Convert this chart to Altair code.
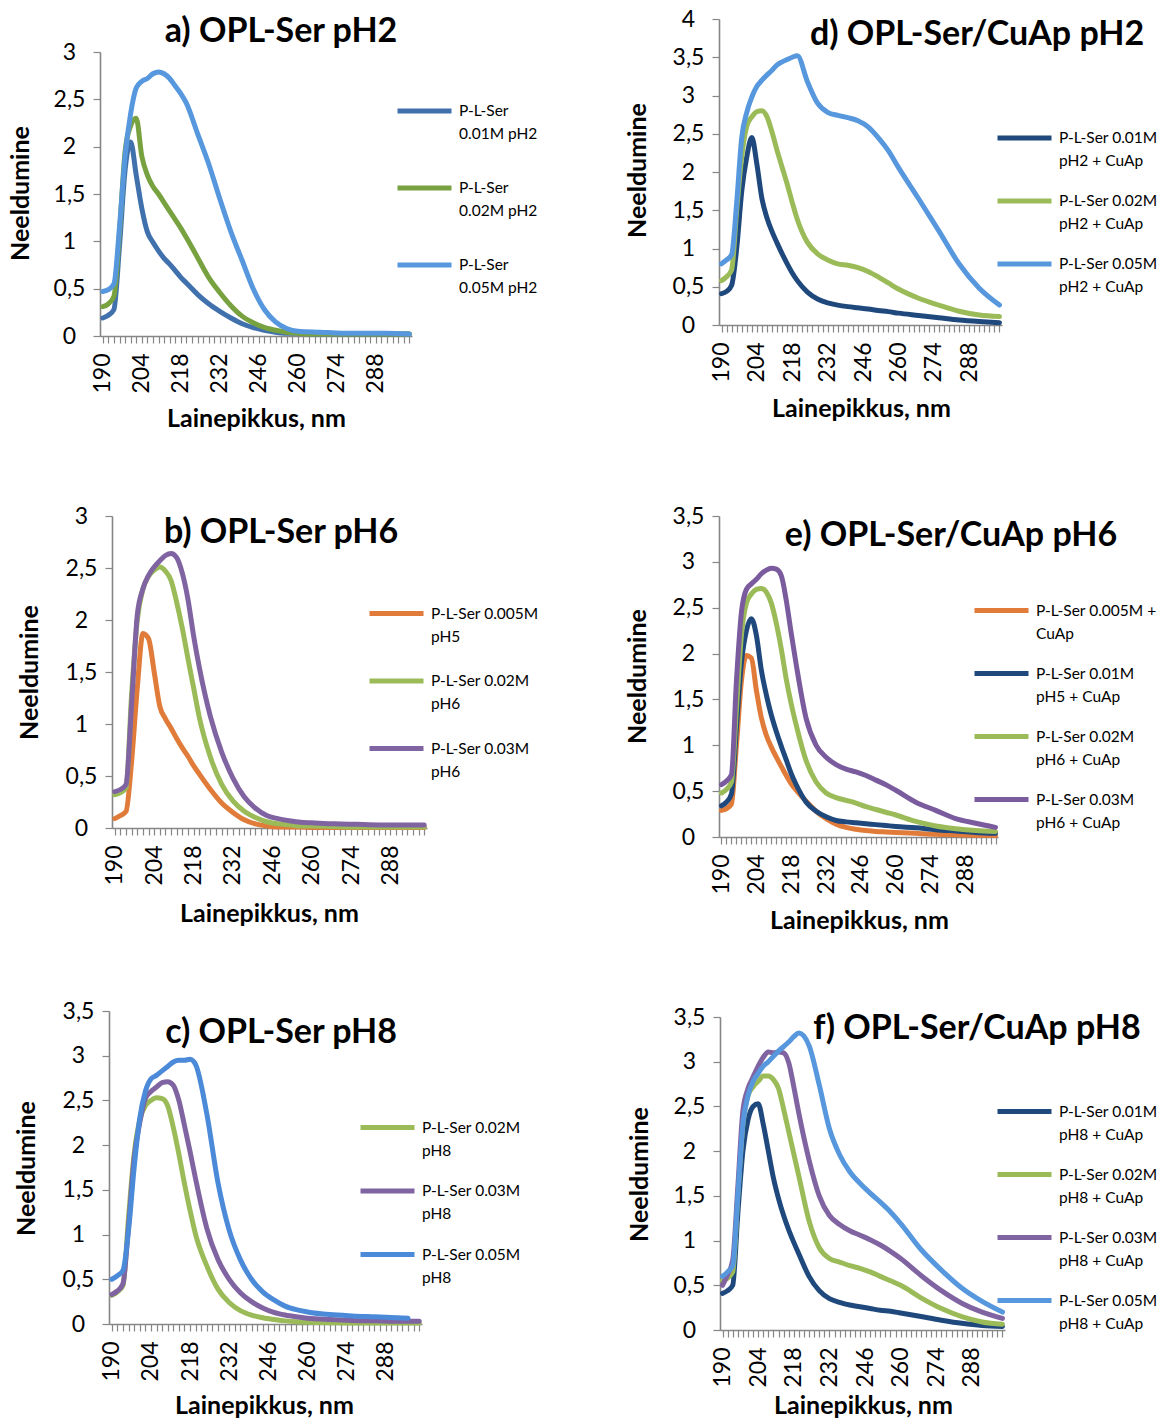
import altair as alt
import pandas as pd

# ---------------- data ----------------
WL = [190, 192, 194, 196, 198, 200, 202, 204, 206, 208, 210, 212, 214, 216, 218, 220,
      224, 228, 232, 236, 240, 244, 248, 252, 256, 260, 268, 276, 284, 292, 300]
WL_C3 = WL[:-1] + [296]

X_TICKS = list(range(190, 301, 2))
X_LABELS = [190, 204, 218, 232, 246, 260, 274, 288]

# a) OPL-Ser pH2
A_NAMES = ["P-L-Ser|0.01M pH2", "P-L-Ser|0.02M pH2", "P-L-Ser|0.05M pH2"]
A1 = [0.19, 0.22, 0.28, 0.95, 1.75, 2.05, 1.70, 1.35, 1.10, 0.99, 0.90, 0.82, 0.76, 0.69, 0.62, 0.56,
      0.44, 0.34, 0.26, 0.19, 0.13, 0.09, 0.06, 0.04, 0.03, 0.03, 0.02, 0.02, 0.02, 0.02, 0.02]
A2 = [0.31, 0.34, 0.42, 1.10, 1.95, 2.22, 2.30, 1.90, 1.70, 1.58, 1.50, 1.41, 1.32, 1.23, 1.14, 1.04,
      0.83, 0.62, 0.46, 0.32, 0.21, 0.14, 0.09, 0.06, 0.04, 0.03, 0.02, 0.02, 0.02, 0.02, 0.02]
A3 = [0.47, 0.49, 0.55, 1.15, 1.90, 2.35, 2.62, 2.69, 2.72, 2.77, 2.79, 2.77, 2.72, 2.64, 2.56, 2.46,
      2.14, 1.82, 1.45, 1.10, 0.80, 0.50, 0.28, 0.15, 0.08, 0.05, 0.04, 0.03, 0.03, 0.03, 0.02]
A_COLORS = ["#4171AC", "#78A140", "#5797DD"]

# b) OPL-Ser pH6
B_NAMES = ["P-L-Ser 0.005M|pH5", "P-L-Ser 0.02M|pH6", "P-L-Ser 0.03M|pH6"]
B1 = [0.09, 0.12, 0.16, 0.65, 1.35, 1.87, 1.82, 1.50, 1.17, 1.05, 0.96, 0.86, 0.77, 0.69, 0.60, 0.52,
      0.37, 0.24, 0.15, 0.08, 0.04, 0.02, 0.01, 0.01, 0.01, 0.005, 0.005, 0.005, 0.005, 0.005, 0.005]
B2 = [0.32, 0.34, 0.39, 1.30, 2.00, 2.30, 2.42, 2.48, 2.51, 2.47, 2.38, 2.17, 1.92, 1.63, 1.35, 1.07,
      0.68, 0.42, 0.26, 0.16, 0.10, 0.06, 0.04, 0.03, 0.02, 0.02, 0.015, 0.01, 0.01, 0.01, 0.01]
B3 = [0.35, 0.37, 0.42, 1.20, 2.05, 2.30, 2.43, 2.51, 2.57, 2.62, 2.64, 2.60, 2.45, 2.20, 1.85, 1.55,
      1.07, 0.73, 0.48, 0.30, 0.19, 0.12, 0.09, 0.07, 0.055, 0.05, 0.04, 0.035, 0.03, 0.03, 0.03]
B_COLORS = ["#E07B39", "#9BBB59", "#8064A2"]

# c) OPL-Ser pH8
C_NAMES = ["P-L-Ser 0.02M|pH8", "P-L-Ser 0.03M|pH8", "P-L-Ser 0.05M|pH8"]
C1 = [0.32, 0.36, 0.43, 1.20, 1.90, 2.28, 2.44, 2.50, 2.53, 2.52, 2.44, 2.20, 1.90, 1.57, 1.27, 1.00,
      0.65, 0.39, 0.24, 0.15, 0.10, 0.07, 0.05, 0.035, 0.025, 0.02, 0.015, 0.01, 0.01, 0.01, 0.01]
C2 = [0.33, 0.37, 0.45, 1.10, 1.85, 2.25, 2.52, 2.60, 2.65, 2.70, 2.71, 2.67, 2.50, 2.22, 1.93, 1.62,
      1.07, 0.72, 0.50, 0.35, 0.25, 0.18, 0.13, 0.10, 0.08, 0.065, 0.05, 0.04, 0.035, 0.03, 0.03]
C3 = [0.50, 0.54, 0.60, 1.05, 1.75, 2.30, 2.60, 2.74, 2.78, 2.83, 2.88, 2.93, 2.95, 2.95, 2.96, 2.90,
      2.35, 1.58, 1.05, 0.72, 0.50, 0.36, 0.27, 0.20, 0.16, 0.135, 0.105, 0.09, 0.08, 0.07, 0.065]
C_COLORS = ["#9BBB59", "#8064A2", "#4A8AD8"]

# d) OPL-Ser/CuAp pH2
D_NAMES = ["P-L-Ser 0.01M|pH2 + CuAp", "P-L-Ser 0.02M|pH2 + CuAp", "P-L-Ser 0.05M|pH2 + CuAp"]
D1 = [0.41, 0.44, 0.52, 1.00, 1.75, 2.20, 2.45, 2.10, 1.65, 1.40, 1.22, 1.07, 0.93, 0.80, 0.68, 0.58,
      0.43, 0.34, 0.29, 0.26, 0.24, 0.225, 0.21, 0.19, 0.175, 0.155, 0.125, 0.095, 0.065, 0.045, 0.03]
D2 = [0.58, 0.63, 0.72, 1.50, 2.20, 2.60, 2.72, 2.79, 2.80, 2.72, 2.52, 2.28, 2.06, 1.84, 1.60, 1.38,
      1.08, 0.93, 0.85, 0.80, 0.78, 0.75, 0.70, 0.63, 0.55, 0.47, 0.35, 0.26, 0.18, 0.13, 0.11]
D3 = [0.80, 0.85, 0.92, 1.60, 2.45, 2.78, 2.98, 3.12, 3.20, 3.27, 3.33, 3.40, 3.44, 3.47, 3.50, 3.52,
      3.18, 2.90, 2.78, 2.74, 2.71, 2.67, 2.59, 2.45, 2.28, 2.06, 1.65, 1.23, 0.80, 0.48, 0.26]
D_COLORS = ["#1F497D", "#9BBB59", "#5797DD"]

# e) OPL-Ser/CuAp pH6
E_NAMES = ["P-L-Ser 0.005M +|CuAp", "P-L-Ser 0.01M|pH5 + CuAp", "P-L-Ser 0.02M|pH6 + CuAp",
           "P-L-Ser 0.03M|pH6 + CuAp"]
E1 = [0.29, 0.31, 0.36, 1.00, 1.70, 1.98, 1.95, 1.60, 1.30, 1.11, 0.98, 0.87, 0.77, 0.67, 0.58, 0.51,
      0.39, 0.28, 0.20, 0.14, 0.105, 0.085, 0.07, 0.06, 0.055, 0.05, 0.04, 0.03, 0.025, 0.02, 0.015]
E2 = [0.34, 0.38, 0.47, 1.20, 1.90, 2.25, 2.38, 2.20, 1.82, 1.55, 1.33, 1.15, 0.99, 0.84, 0.69, 0.57,
      0.38, 0.28, 0.22, 0.18, 0.165, 0.155, 0.145, 0.135, 0.125, 0.115, 0.10, 0.08, 0.065, 0.05, 0.04]
E3 = [0.48, 0.52, 0.60, 1.40, 2.20, 2.55, 2.65, 2.70, 2.71, 2.67, 2.55, 2.33, 2.05, 1.72, 1.45, 1.22,
      0.83, 0.60, 0.48, 0.43, 0.40, 0.37, 0.33, 0.30, 0.27, 0.24, 0.17, 0.12, 0.09, 0.07, 0.06]
E4 = [0.57, 0.61, 0.68, 1.70, 2.45, 2.70, 2.76, 2.81, 2.87, 2.91, 2.93, 2.92, 2.85, 2.58, 2.22, 1.88,
      1.29, 1.00, 0.87, 0.79, 0.74, 0.71, 0.67, 0.62, 0.57, 0.51, 0.38, 0.29, 0.20, 0.15, 0.105]
E_COLORS = ["#E07B39", "#1F497D", "#9BBB59", "#7A5C9E"]

# f) OPL-Ser/CuAp pH8
F_NAMES = ["P-L-Ser 0.01M|pH8 + CuAp", "P-L-Ser 0.02M|pH8 + CuAp", "P-L-Ser 0.03M|pH8 + CuAp",
           "P-L-Ser 0.05M|pH8 + CuAp"]
F1 = [0.41, 0.44, 0.50, 1.30, 2.00, 2.35, 2.50, 2.53, 2.30, 2.00, 1.70, 1.47, 1.28, 1.12, 0.98, 0.85,
      0.60, 0.44, 0.35, 0.31, 0.28, 0.26, 0.24, 0.22, 0.21, 0.19, 0.15, 0.11, 0.075, 0.05, 0.04]
F2 = [0.55, 0.58, 0.65, 1.50, 2.30, 2.62, 2.72, 2.78, 2.84, 2.84, 2.80, 2.70, 2.47, 2.22, 1.97, 1.72,
      1.22, 0.92, 0.80, 0.76, 0.72, 0.69, 0.65, 0.60, 0.55, 0.50, 0.36, 0.24, 0.15, 0.09, 0.065]
F3 = [0.50, 0.62, 0.78, 1.60, 2.45, 2.70, 2.83, 2.95, 3.05, 3.11, 3.10, 3.11, 3.10, 2.99, 2.72, 2.42,
      1.90, 1.50, 1.28, 1.18, 1.11, 1.06, 1.01, 0.95, 0.88, 0.80, 0.61, 0.44, 0.30, 0.20, 0.13]
F4 = [0.60, 0.65, 0.72, 1.50, 2.30, 2.62, 2.78, 2.87, 2.95, 3.00, 3.06, 3.12, 3.17, 3.22, 3.28, 3.32,
      3.18, 2.74, 2.25, 1.96, 1.77, 1.64, 1.53, 1.43, 1.32, 1.19, 0.90, 0.67, 0.47, 0.32, 0.20]
F_COLORS = ["#1F497D", "#9BBB59", "#8064A2", "#5797DD"]

# ---------------- styling / layout ----------------
FONT = "Lato"
GRAY = "#868686"
CELL_W = 315
ROW_H = [306, 323, 316]

PANELS = [
    dict(title="a) OPL-Ser pH2", names=A_NAMES, vals=[A1, A2, A3], wls=[WL, WL, WL], colors=A_COLORS,
         ymax=3.0, h=ROW_H[0], xr=[-12, 300], yr=[317, 33], yoff=12, xoff=11,
         ytx=-80, yty=174, xtx=144, xty=82, legx=283, legy=62.5, rowpad=16, tdx=11.5, tdy=46.5),
    dict(title="d) OPL-Ser/CuAp pH2", names=D_NAMES, vals=[D1, D2, D3], wls=[WL, WL, WL], colors=D_COLORS,
         ymax=4.0, h=ROW_H[0], xr=[-1, 282], yr=[306, 0], yoff=1, xoff=0,
         ytx=-82, yty=151, xtx=141, xty=83, legx=275, legy=89.5, rowpad=2, tdx=99.5, tdy=60.5),
    dict(title="b) OPL-Ser pH6", names=B_NAMES, vals=[B1, B2, B3], wls=[WL, WL, WL], colors=B_COLORS,
         ymax=3.0, h=ROW_H[1], xr=[0, 315], yr=[323, 11], yoff=0, xoff=0,
         ytx=-83, yty=167, xtx=157, xty=85, legx=255, legy=79, rowpad=6.5, tdx=11.5, tdy=62),
    dict(title="e) OPL-Ser/CuAp pH6", names=E_NAMES, vals=[E1, E2, E3, E4], wls=[WL, WL, WL, WL],
         colors=E_COLORS, ymax=3.5, h=ROW_H[1], xr=[-1, 278], yr=[332, 11], yoff=1, xoff=9,
         ytx=-82, yty=171, xtx=139, xty=83, legx=252, legy=76, rowpad=2, tdx=73.5, tdy=65),
    dict(title="c) OPL-Ser pH8", names=C_NAMES, vals=[C1, C2, C3], wls=[WL, WL, WL_C3], colors=C_COLORS,
         ymax=3.5, h=ROW_H[2], xr=[-3, 310], yr=[316, 3], yoff=3, xoff=0,
         ytx=-83, yty=160, xtx=152, xty=81, legx=246, legy=90, rowpad=2.5, tdx=11.5, tdy=67),
    dict(title="f) OPL-Ser/CuAp pH8", names=F_NAMES, vals=[F1, F2, F3, F4], wls=[WL, WL, WL, WL],
         colors=F_COLORS, ymax=3.5, h=ROW_H[2], xr=[0, 285], yr=[322, 9], yoff=0, xoff=6,
         ytx=-81, yty=166, xtx=143, xty=75, legx=275, legy=74, rowpad=2, tdx=99.5, tdy=57),
]

LABEL_EXPR_X = "indexof(" + str(X_LABELS) + ", datum.value) >= 0 ? datum.label : ''"


def make_panel(p):
    rows = []
    for k, (name, vals, wls) in enumerate(zip(p["names"], p["vals"], p["wls"])):
        for w, v in zip(wls, vals):
            rows.append({"wl": w, "v": v, "s": name, "k": k})
    df = pd.DataFrame(rows)
    ymax = p["ymax"]
    yvals = [i * 0.5 for i in range(int(round(ymax * 2)) + 1)]

    x = alt.X(
        "wl:Q",
        scale=alt.Scale(domain=[189, 301], range=p["xr"], nice=False, zero=False),
        axis=alt.Axis(
            values=X_TICKS, format="d", labelExpr=LABEL_EXPR_X,
            labelAngle=270, labelAlign="right", labelBaseline="middle", labelPadding=10,
            labelFont=FONT, labelFontSize=23, labelColor="#000000",
            labelOverlap=False, labelFlush=False,
            tickSize=7, tickColor=GRAY, tickWidth=1.2,
            domainColor=GRAY, domainWidth=1.6, grid=False, offset=p["xoff"],
            title="Lainepikkus, nm", titleFont=FONT, titleFontSize=25, titleFontWeight="bold",
            titleColor="#000000", titleX=p["xtx"], titleY=p["xty"],
            titleAlign="center", titleBaseline="middle",
        ),
    )
    y = alt.Y(
        "v:Q",
        scale=alt.Scale(domain=[0, ymax], range=p["yr"], nice=False, zero=True),
        axis=alt.Axis(
            values=yvals, format=".1~f", labelExpr="replace(datum.label, '.', ',')",
            labelFont=FONT, labelFontSize=23, labelColor="#000000",
            labelAlign="center", labelPadding=24,
            labelOverlap=False, labelFlush=False,
            tickSize=7, tickColor=GRAY, tickWidth=1.2,
            domainColor=GRAY, domainWidth=1.6, grid=False, offset=p["yoff"],
            title="Neeldumine", titleFont=FONT, titleFontSize=25, titleFontWeight="bold",
            titleColor="#000000", titleAngle=270, titleX=p["ytx"], titleY=p["yty"],
            titleAlign="center", titleBaseline="middle",
        ),
    )
    color = alt.Color(
        "s:N",
        scale=alt.Scale(domain=p["names"], range=p["colors"]),
        legend=alt.Legend(
            orient="none", legendX=p["legx"], legendY=p["legy"], title=None,
            direction="vertical", symbolType="stroke", symbolSize=2916, symbolStrokeWidth=5,
            labelFont=FONT, labelFontSize=15.5, labelColor="#000000",
            labelExpr="split(datum.label, '|')", labelLimit=300, labelOffset=5,
            rowPadding=p["rowpad"], padding=0,
        ),
    )
    return (
        alt.Chart(df)
        .mark_line(strokeWidth=5, interpolate="monotone", strokeCap="round", strokeJoin="round")
        .encode(x=x, y=y, color=color)
        .properties(
            width=CELL_W, height=p["h"],
            title=alt.TitleParams(
                text=p["title"], font=FONT, fontSize=34, fontWeight="bold", color="#000000",
                anchor="middle", frame="group", baseline="middle", dx=p["tdx"], dy=p["tdy"], offset=0,
            ),
        )
    )


charts = [make_panel(p) for p in PANELS]

chart = (
    alt.concat(*charts, columns=2, spacing={"row": 180, "column": 293}, bounds="flush", align="each")
    .resolve_scale(x="independent", y="independent", color="independent")
    .resolve_legend(color="independent")
    .properties(padding=0, background="white")
    .configure(style={"guide-label": {"lineHeight": 23}})
    .configure_view(strokeWidth=0)
)

chart.save("out.html", embed_options={"renderer": "svg", "actions": False})
